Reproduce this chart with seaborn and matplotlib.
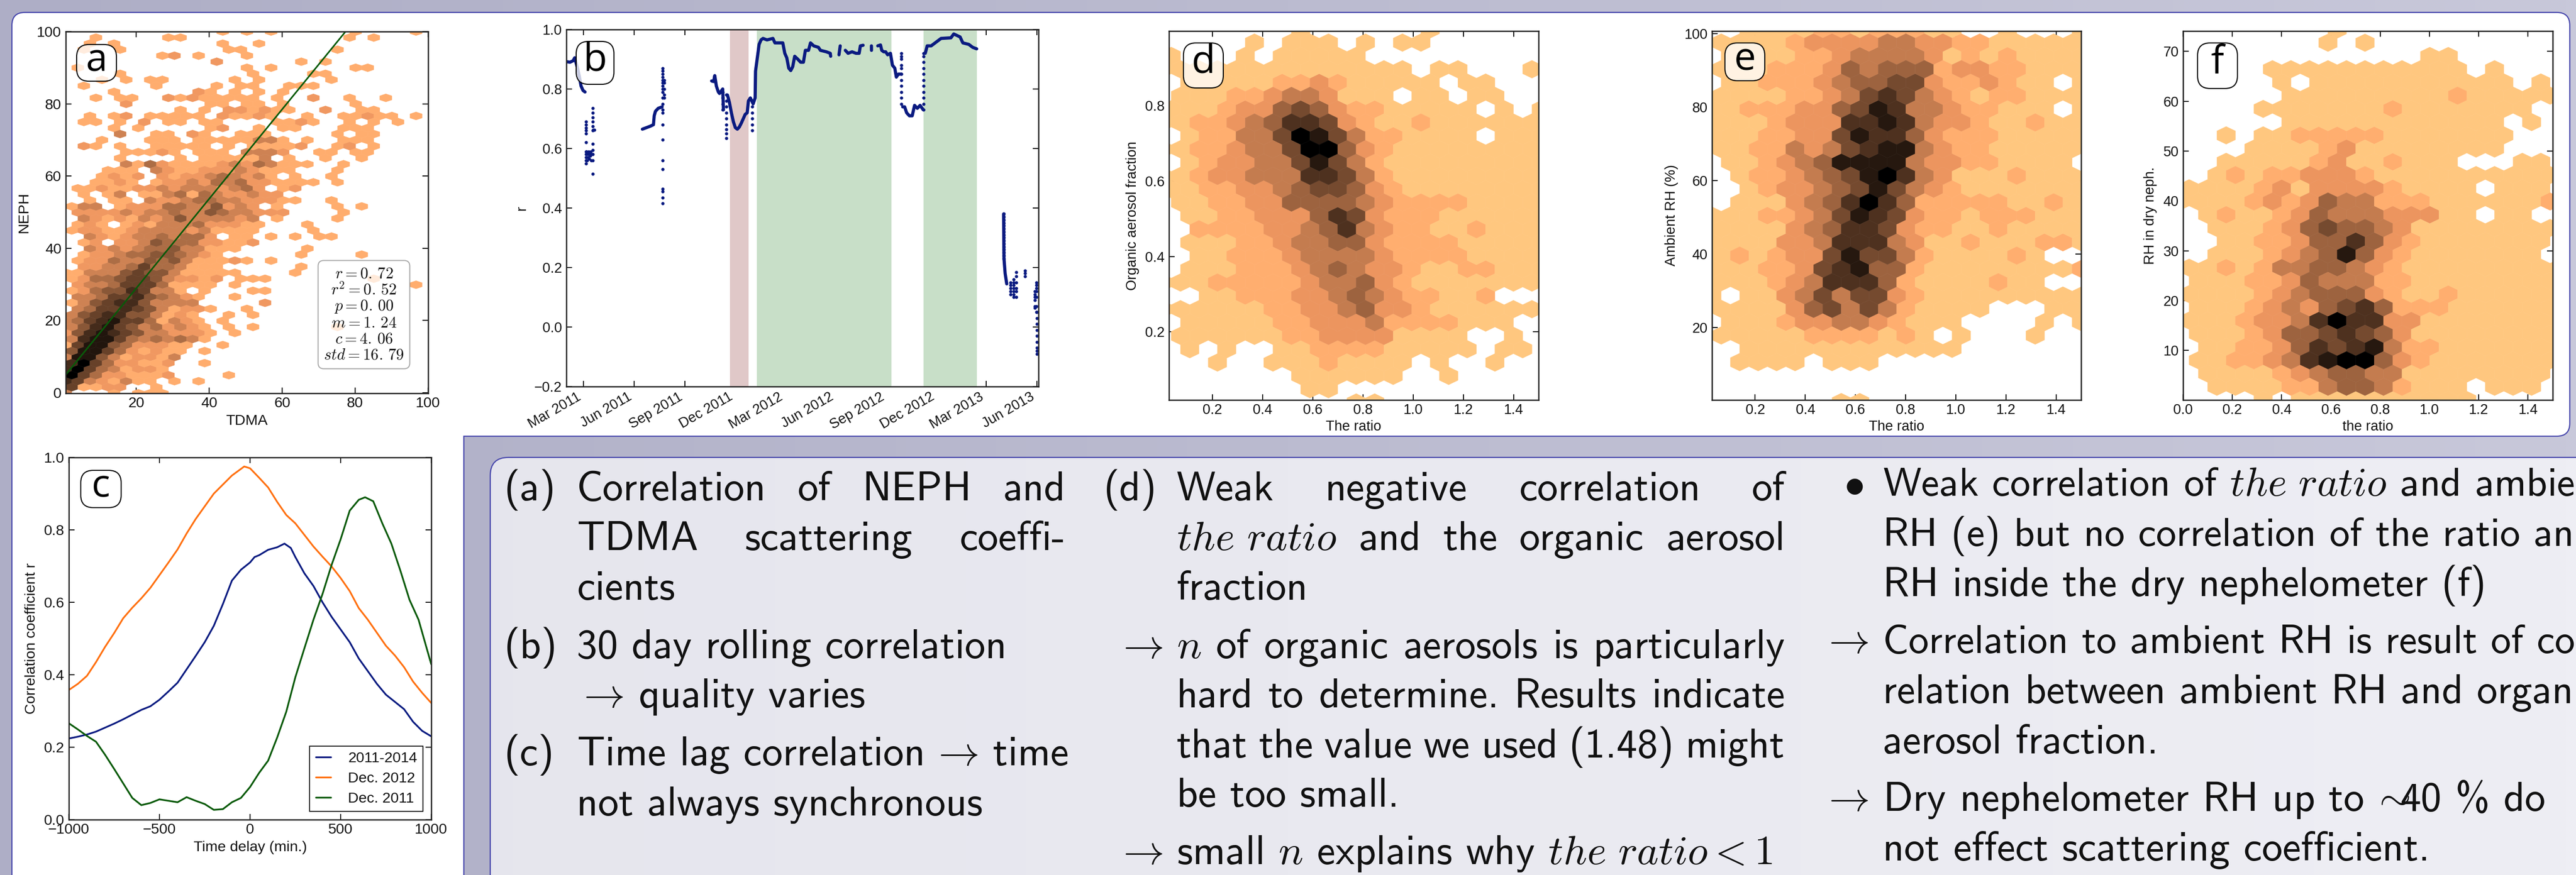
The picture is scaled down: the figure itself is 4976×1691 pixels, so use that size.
import numpy as np
import pandas as pd
import matplotlib
matplotlib.use('Agg')
import matplotlib.pyplot as plt
import matplotlib.dates as mdates
from matplotlib.patches import FancyBboxPatch, PathPatch
from matplotlib.path import Path
import seaborn as sns

W, H = 4976, 1691
sns.set_style('ticks')
plt.rcParams['font.family'] = ['Liberation Sans', 'DejaVu Sans']
plt.rcParams['mathtext.fontset'] = 'cm'
plt.rcParams.update({'xtick.direction': 'in', 'ytick.direction': 'in', 'xtick.top': True, 'ytick.right': True,
                     'xtick.major.size': 8, 'ytick.major.size': 8, 'xtick.major.width': 1.4, 'ytick.major.width': 1.4,
                     'xtick.major.pad': 5, 'ytick.major.pad': 6, 'axes.linewidth': 1.8, 'axes.edgecolor': '#222222',
                     'xtick.color': '#111111', 'ytick.color': '#111111', 'axes.labelcolor': '#111111', 'text.color': '#111111'})

NAVY = '#0a1a80'
ORANGE = '#ff7010'
GREEN = '#0a5a0a'

# ================= hexbin cells, read row by row from the top, '.' = empty, 1-9 = light to black =================
A_ROWS = [
    ".............1.1.1......1....1",
    "..1.....11.............1.1",
    "..1.1........1..1",
    ".1..1........11.......1",
    "........12.1...1",
    "............2......1.1",
    ".1.............1.1......11",
    "....1..........1....11",
    "...1.1.11.....1.1.....1",
    ".1.....1....1.11..111",
    "....1......21.1.1.1",
    "..1.11..21211111.1..2..1..1",
    ".....2......11.11.1.....1",
    ".........1.1.221211..2..11",
    "..1.12.11111.21121..1..11211.1",
    ".11.1.2.11.11....1121..1.1.1",
    "....1.1.....12..1.11...111",
    "....3..11.21..111.....1.11",
    "...1...111.11111331.1..111",
    ".21.1..11111.1.11112..12.1",
    ".....11121.111.3332..11.11",
    "....1....1.111113.1..1..1",
    ".....3142111123243111..1",
    "...111.321122232111...1",
    "...1212.2122343231.1..1",
    "..1121.12232434221111.1",
    ".1121122323332342.12",
    ".1.13.113414322322",
    "..1.11.3223443322211..1",
    "133.122244335232.1....1.1",
    ".222232334335433222....1",
    ".321213235333323.1....1",
    ".121.121333422211...1",
    "1221123333231111....1",
    "..32123343442.11.1.1.11",
    ".12.223544422112",
    "..3232344533111.....1",
    ".122344554321......1....1",
    ".122433545311121.1",
    ".223346443111......1",
    "113335655311111....1",
    "1244566532212.111........1",
    ".233466641111.1..............1",
    "1245576331.1...11",
    ".33466754321..1",
    "13567753333.....2",
    ".346676531221..1",
    "35677553121..1.1",
    "346786641321.1",
    "357865342321.1.1......1",
    "2578765332221.1",
    "378864343431",
    "16885422211..1",
    "5886421211.1",
    "3885312213",
    "796422112..1",
    "796431221",
    "964221112....1",
    "76321311.1.1",
    "61122..1",
    "3...1.111",
]
D_ROWS = [
    "........1......1......",
    ".....1.111.1.11......",
    ".1...1.11111..........",
    "11111111111111.11...1",
    "..11111223211111.11...",
    ".111223443111.11.11..",
    ".11123356532211111.1.1",
    "112234577632112111111",
    "..1224469864221111.111",
    "112234469953211111111",
    "..12334468642111111111",
    "112334447764211111111",
    ".112233456653211111111",
    ".11223355554322221111",
    "..11223335763222111111",
    "..2222334574322112111",
    "..11122344553222211111",
    "..1122234444322221111",
    "..11122234543321122111",
    "111222223445321111111",
    "...1122233454322112...",
    "111111223345332111111",
    "..111112233342222111..",
    ".1111112233331111..1.",
    "..1.1..11222211111.11.",
    "...1..11121111.1..1..",
    "........111111..1.....",
    "........11...........",
    "...........11.........",
]
E_ROWS = [
    "..111122122211..1...1",
    "11112333344332211111",
    ".11112234444312121111",
    "11122235455523322111",
    ".112223455663223211.1",
    "11112234676432122111",
    "1122233568744322111.1",
    "11123337787433211211",
    "111223368775322211111",
    "11224346788432211111",
    ".1123458888433221111.",
    ".1223456897431112111",
    "..1233456864321111111",
    ".1113457975222221121",
    "111223468763221222111",
    "11113457763221121111",
    "111133477743112111221",
    "121233686642111121..",
    "111223678552111111112",
    "111234777521111211..",
    "1.1134646632111111111",
    "111135646421111...11",
    ".1112334432111....1.1",
    "111112222121.1...1..",
    "..111111111111.......",
    ".1111.111...........",
    ".....................",
    "....................",
    ".......11............",
]
F_ROWS = [
    ".........1............",
    "........1.1..........",
    "..............11......",
    ".....11111111111.1...",
    "......1.11111111111.1.",
    "......111111111211111",
    ".....111111121111111..",
    "......111111111111.1.",
    "...1.11222221111111...",
    "....11112311111111....",
    "...1111123112111...11.",
    "..1212233321111111111",
    ".1111231333321111.111.",
    "111123235442221111112",
    "..121123544433311.11..",
    "..1112356554311111111",
    "...112235575321111111.",
    "..111234585321111111.",
    ".112124455432111111111",
    ".11122354442211111111",
    ".111123455532112111111",
    ".11123435675222111111",
    ".111233479773311111111",
    ".11123556765311111111",
    "..11223576784221111111",
    ".11223478995321111111",
    "..1111234554411111111.",
    "..11112245542111.111.",
    ".....1.1111111111.....",
]

# ================= panel a fit =================
a_fit_x = [0.7, 100.0]
a_m, a_c = 1.24, 4.06
a_stats = [r'$r=0.\,72$', r'$r^2=0.\,52$', r'$p=0.\,00$', r'$m=1.\,24$', r'$c=4.\,06$', r'$std=16.\,79$']

# ================= panel b: days after 2011-03-01 =================
seg_a_days = [-30.9, -24.4, -18.7, -15.8, -12.9, -10, -7.2, -4.3, -0.7, 2.9]
seg_a_r = [.892, .89, .895, .905, .885, .865, .84, .81, .795, .79]
seg_b_days = [107, 114.2, 121.4, 127.1, 128.5, 130.7, 135.7, 142.9]
seg_b_r = [.665, .67, .675, .68, .71, .725, .735, .74]
seg_c_days = [232.7, 236.3, 238.4, 241.3, 244.9, 247, 252.8, 254.2]
seg_c_r = [.827, .825, .845, .81, .79, .785, .80, .73]
seg_d_days = [261.4, 265, 268.6, 272.2, 275.8, 279.4, 282.9, 286.5, 290.1, 293.7, 297.3, 299.5, 303, 308.1, 311.7,
              312.4, 315.3, 318.9, 322.4, 326, 333.2, 344, 347.6, 361.9, 365.5, 369.1, 372.7, 376.3, 379.9, 383.5,
              389.2, 394.3, 399.3, 402.9, 408.6, 412.2, 418, 426.6, 430.2, 440.9, 448.1, 448.8]
seg_d_r = [.78, .755, .72, .69, .67, .665, .672, .685, .70, .715, .72, .76, .77, .75, .77,
           .86, .90, .95, .965, .97, .965, .97, .955, .955, .92, .905, .87, .862, .875, .91,
           .90, .89, .89, .93, .93, .955, .945, .94, .93, .925, .92, .91]
seg_e_days = [463.9, 466.1]
seg_e_r = [.915, .945]
seg_f_days = [475.4, 480.4, 487.6, 494.8, 500.5, 502.7, 507.7]
seg_f_r = [.93, .92, .925, .92, .92, .945, .947]
seg_g_days = [522.8, 522.9]
seg_g_r = [.945, .93]
seg_h_days = [534.3, 539.3, 541.5, 545.1, 548.7, 552.2, 557.3, 560.9, 565.2, 568, 571.6, 573.8, 577.4]
seg_h_r = [.945, .948, .93, .925, .925, .915, .92, .88, .87, .84, .85, .85, .85]
seg_i_days = [579.5, 583.1, 586.7, 591.7, 596.8, 601.1, 606.1, 611.1, 616.9]
seg_i_r = [.74, .74, .72, .71, .71, .745, .735, .745, .73]
seg_j_days = [620.5, 624, 631.2, 634.8, 642, 649.2, 667.1, 672.2, 677.9, 683.7, 688.7, 699.5, 706.6, 713.8]
seg_j_r = [.92, .945, .945, .95, .96, .97, .972, .985, .98, .975, .955, .95, .94, .935]
seg_k_days = [762.7, 763.4, 765.5, 768.4]
seg_k_r = [.38, .23, .18, .145]
b_segments = [(seg_a_days, seg_a_r), (seg_b_days, seg_b_r), (seg_c_days, seg_c_r), (seg_d_days, seg_d_r),
              (seg_e_days, seg_e_r), (seg_f_days, seg_f_r), (seg_g_days, seg_g_r), (seg_h_days, seg_h_r),
              (seg_i_days, seg_i_r), (seg_j_days, seg_j_r), (seg_k_days, seg_k_r)]

dot_days = [4.3, 5.5, 6.5, 7.5, 8.5, 9.5, 10.5, 11.5, 12.5, 13.5, 14.5, 15.5, 17, 18.3, 19.5, 143.6, 146.5, 259, 252.8,
            305.9, 577.4, 617.6, 762.7, 775.6, 781, 786, 801.4, 819.4, 822.3, 823]
dot_runs = [[.69, .68, .67, .66, .65, .62, .59, .58, .57, .56, .55], [.59], [.56], [.58], [.57], [.59], [.565], [.58],
            [.575], [.59], [.56], [.58], [.735, .72, .705, .69, .675, .66, .615, .595, .58, .56, .515], [.663], [.663],
            [.87, .86, .85, .84, .83, .82, .81, .80, .79, .77, .75, .73, .72, .68, .63, .56, .53, .465, .455, .435, .415],
            [.83, .82, .80, .78, .77], [.78, .76, .74, .72, .70, .68, .665, .65, .635], [.79, .77, .75, .73],
            [.76, .74, .72, .70, .68, .66], [.92, .91, .90, .88, .87, .85, .83, .81, .79, .77, .75],
            [.73, .75, .77, .79, .81, .83, .85, .87, .89, .91, .92],
            [.38, .37, .36, .35, .34, .33, .32, .31, .30, .29, .28, .27, .26, .25, .24, .23],
            [.15, .14, .13, .12, .11], [.16, .15, .14, .13, .12, .11, .10], [.185, .17, .15, .13, .12, .10],
            [.19, .18, .17], [.12, .11, .10, .09, .07, .065], [.15, .14, .13, .12, .10, .07, .05],
            [.05, .03, .01, -.01, -.03, -.05, -.07, -.08, -.09]]
pink_span = [265.7, 299.5]
green_spans = [[314.5, 559.4], [617.6, 714.5]]
b_ticks = ['2011-03-01', '2011-06-01', '2011-09-01', '2011-12-01', '2012-03-01', '2012-06-01', '2012-09-01',
           '2012-12-01', '2013-03-01', '2013-06-01']

# ================= panel c =================
c_blue_t = [-1000, -950, -900, -850, -800, -750, -700, -650, -600, -550, -500, -450, -400, -350, -300, -250, -200, -150,
            -100, -50, 0, 25, 50, 100, 150, 190, 225, 250, 300, 350, 400, 450, 500, 550, 600, 650, 700, 750, 800, 850,
            900, 950, 1000]
c_blue_r = [.224, .229, .235, .243, .254, .265, .277, .29, .303, .313, .331, .354, .378, .415, .452, .49, .535, .595,
            .66, .69, .71, .725, .73, .745, .752, .762, .75, .725, .68, .645, .60, .56, .525, .49, .445, .41, .375,
            .345, .325, .305, .27, .245, .23]
c_orange_t = [-1000, -950, -900, -850, -800, -750, -700, -650, -600, -550, -500, -450, -400, -350, -300, -250, -200,
              -150, -100, -32, 0, 50, 100, 150, 200, 250, 300, 350, 400, 450, 500, 550, 600, 650, 700, 750, 800, 850,
              900, 950, 1000]
c_orange_r = [.358, .375, .397, .435, .477, .515, .556, .585, .611, .64, .675, .71, .746, .79, .83, .865, .90, .925,
              .95, .975, .97, .944, .917, .877, .841, .818, .786, .754, .726, .699, .667, .631, .584, .552, .516, .48,
              .453, .421, .381, .35, .322]
c_green_t = [-1000, -950, -900, -850, -800, -750, -700, -650, -600, -550, -500, -450, -400, -350, -300, -250, -200,
             -150, -100, -50, 0, 50, 100, 150, 200, 250, 300, 350, 400, 450, 500, 550, 600, 635, 680, 730, 780, 830,
             880, 930, 1000]
c_green_r = [.266, .249, .231, .215, .179, .14, .10, .06, .04, .046, .056, .052, .048, .062, .052, .043, .027, .029,
             .048, .06, .09, .129, .163, .227, .298, .393, .473, .552, .623, .703, .774, .853, .883, .89, .879, .818,
             .762, .687, .607, .552, .429]


def px_axes(l, t, r, b):
    return fig.add_axes([l / W, 1 - b / H, (r - l) / W, (b - t) / H], zorder=2)


def hex_cells(rows, x0, x1, nx, y0, y1, ny):
    sx, sy = (x1 - x0) / nx, (y1 - y0) / ny
    xs, ys, vals = [], [], []
    for k, row in enumerate(rows):
        j = len(rows) - 1 - k
        off = 0.5 if j % 2 else 0.0
        for i, c in enumerate(row):
            if c != '.':
                xs.append(x0 + (i + off) * sx)
                ys.append(y0 + j / 2 * sy)
                vals.append(int(c))
    return xs, ys, vals


def hex_panel(ax, rows, ext, grid, lims, vmin=1):
    xs, ys, vals = hex_cells(rows, ext[0], ext[1], grid[0], ext[2], ext[3], grid[1])
    ax.hexbin(xs, ys, C=vals, gridsize=grid, extent=ext, cmap='copper_r', vmin=vmin, vmax=9, linewidths=0.4)
    ax.set_xlim(lims[0], lims[1])
    ax.set_ylim(lims[2], lims[3])


def round_path(pts, radii):
    verts, codes = [], []
    n = len(pts)
    for k, (p, r) in enumerate(zip(pts, radii)):
        p = np.array(p, float)
        a, b = np.array(pts[k - 1], float), np.array(pts[(k + 1) % n], float)
        first = Path.MOVETO if k == 0 else Path.LINETO
        if r == 0:
            verts.append(p)
            codes.append(first)
        else:
            verts += [p + (a - p) / np.linalg.norm(a - p) * r, p, p + (b - p) / np.linalg.norm(b - p) * r]
            codes += [first, Path.CURVE3, Path.CURVE3]
    verts.append(verts[0])
    codes.append(Path.CLOSEPOLY)
    return Path(verts, codes)


fig = plt.figure(figsize=(W / 100, H / 100), dpi=100)

# ================= background =================
bg = fig.add_axes([0, 0, 1, 1], zorder=0)
grad = np.linspace([174, 174, 198], [200, 200, 218], 256)[None, :, :] / 255
bg.imshow(grad, extent=(0, W, H, 0), aspect='auto')
edge = '#4646ac'
white_path = round_path([(23, 24), (4964, 24), (4964, 843), (896, 843), (896, H + 60), (23, H + 60)],
                        [25, 25, 25, 0, 0, 0])
bg.add_patch(PathPatch(white_path, fc='white', ec=edge, lw=1.6))
light_path = round_path([(947, 884), (W + 60, 884), (W + 60, H + 60), (947, H + 60)], [35, 0, 0, 0])
light_grad = np.linspace([228, 228, 236], [238, 238, 244], 256)[None, :, :] / 255
im = bg.imshow(light_grad, extent=(0, W, H, 0), aspect='auto')
light_patch = PathPatch(light_path, fc='none', ec=edge, lw=1.6)
bg.add_patch(light_patch)
im.set_clip_path(light_patch)
bg.set_xlim(0, W)
bg.set_ylim(H, 0)
bg.axis('off')

# ================= a =================
ax_a = px_axes(127, 61, 827, 760)
hex_panel(ax_a, A_ROWS, (0.7, 100, -0.2, 100), (30, 30), (0.7, 100, -0.2, 100), vmin=-0.195)
fit_x = np.array(a_fit_x)
sns.lineplot(x=fit_x, y=a_m * fit_x + a_c, color=GREEN, lw=2.2, ax=ax_a, legend=False)
ax_a.set_xlim(0.7, 100)
ax_a.set_ylim(-0.2, 100)
ax_a.set_xticks([20, 40, 60, 80, 100])
ax_a.set_yticks([0, 20, 40, 60, 80, 100])
ax_a.tick_params(labelsize=20.5)
ax_a.set_xlabel('TDMA', fontsize=20.5, labelpad=6)
ax_a.set_ylabel('NEPH', fontsize=20.5, labelpad=8)
ax_a.text((703 - 127) / 700, 1 - (608 - 61) / 699, '\n'.join(a_stats), transform=ax_a.transAxes, ha='center', va='center',
          fontsize=22, linespacing=1.05, bbox=dict(boxstyle='round,pad=0.35', fc='white', ec='#888888', lw=1.4, alpha=0.75))

# ================= b =================
ax_b = px_axes(1094, 57, 2006, 747)
start = pd.Timestamp('2011-03-01')
b_df = pd.concat([pd.DataFrame({'date': start + pd.to_timedelta(np.array(d, float), 'D'), 'r': r, 'seg': n})
                  for n, (d, r) in enumerate(b_segments)])
dots = pd.DataFrame({'date': start + pd.to_timedelta(np.repeat(dot_days, [len(v) for v in dot_runs]), 'D'),
                     'r': np.concatenate(dot_runs)})
ax_b.axvspan(start + pd.to_timedelta(pink_span[0], 'D'), start + pd.to_timedelta(pink_span[1], 'D'), color='#e0c8c8', lw=0)
for sp in green_spans:
    ax_b.axvspan(start + pd.to_timedelta(sp[0], 'D'), start + pd.to_timedelta(sp[1], 'D'), color='#c8dfc8', lw=0)
sns.lineplot(data=b_df, x='date', y='r', units='seg', estimator=None, sort=False, color=NAVY, lw=4.4, ax=ax_b, legend=False)
sns.scatterplot(data=dots, x='date', y='r', color=NAVY, s=20, linewidth=0, ax=ax_b, legend=False)
ax_b.set_xlim(pd.Timestamp('2011-01-29'), pd.Timestamp('2013-06-04'))
ax_b.set_ylim(-0.2, 1.0)
ax_b.set_xticks(pd.to_datetime(b_ticks))
ax_b.xaxis.set_major_formatter(mdates.DateFormatter('%b %Y'))
ax_b.tick_params(labelsize=19.5)
plt.setp(ax_b.get_xticklabels(), rotation=30, ha='right')
ax_b.set_xlabel('')
ax_b.set_ylabel('r', fontsize=19.5, labelpad=8)

# ================= c =================
ax_c = px_axes(133, 884, 833, 1584)
c_names = ['2011-2014', 'Dec. 2012', 'Dec. 2011']
c_df = pd.concat([pd.DataFrame({'t': c_blue_t, 'r': c_blue_r, 'period': c_names[0]}),
                  pd.DataFrame({'t': c_orange_t, 'r': c_orange_r, 'period': c_names[1]}),
                  pd.DataFrame({'t': c_green_t, 'r': c_green_r, 'period': c_names[2]})])
sns.lineplot(data=c_df, x='t', y='r', hue='period', palette=dict(zip(c_names, [NAVY, ORANGE, GREEN])), lw=2.4, ax=ax_c)
ax_c.set_xlim(-1000, 1000)
ax_c.set_ylim(0, 1)
ax_c.set_xticks([-1000, -500, 0, 500, 1000])
ax_c.set_yticks([0, .2, .4, .6, .8, 1.0])
ax_c.tick_params(labelsize=20.5)
ax_c.set_xlabel('Time delay (min.)', fontsize=20.5, labelpad=6)
ax_c.set_ylabel('Correlation coefficient r', fontsize=20.5, labelpad=8)
ax_c.legend(loc='lower right', fontsize=20.5, fancybox=False, edgecolor='black', framealpha=1, borderaxespad=0.55,
            handlelength=1.05, handletextpad=1.15, labelspacing=0.45).get_frame().set_linewidth(1.2)

# ================= d e f =================
ax_d = px_axes(2258, 60, 2972, 773)
hex_panel(ax_d, D_ROWS, (-.0382, 1.5091, .0123, 1.0027), (21, 14), (.0263, 1.4987, .019, .998))
ax_d.set_xticks([.2, .4, .6, .8, 1.0, 1.2, 1.4])
ax_d.set_yticks([.2, .4, .6, .8])
ax_d.set_xlabel('The ratio', fontsize=19.5, labelpad=4)
ax_d.set_ylabel('Organic aerosol fraction', fontsize=19.5, labelpad=8)

ax_e = px_axes(3307, 60, 4020, 773)
hex_panel(ax_e, E_ROWS, (.0276, 1.5012, -.34, 101.19), (20, 14), (.0276, 1.5, .23, 100.7))
ax_e.set_xticks([.2, .4, .6, .8, 1.0, 1.2, 1.4])
ax_e.set_yticks([20, 40, 60, 80, 100])
ax_e.set_xlabel('The ratio', fontsize=19.5, labelpad=4)
ax_e.set_ylabel('Ambient RH (%)', fontsize=19.5, labelpad=8)

ax_f = px_axes(4217, 60, 4931, 773)
hex_panel(ax_f, F_ROWS, (-.0505, 1.527, .04, 74.41), (21, 14), (0, 1.5, .04, 74.1))
ax_f.set_xticks([0, .2, .4, .6, .8, 1.0, 1.2, 1.4])
ax_f.set_yticks([10, 20, 30, 40, 50, 60, 70])
ax_f.set_xlabel('the ratio', fontsize=19.5, labelpad=4)
ax_f.set_ylabel('RH in dry neph.', fontsize=19.5, labelpad=8)
for ax in [ax_d, ax_e, ax_f]:
    ax.tick_params(labelsize=19.5)

# ================= overlay: panel letters and slide text =================
top = fig.add_axes([0, 0, 1, 1], zorder=5)
top.set_xlim(0, W)
top.set_ylim(H, 0)
top.axis('off')
letters = {'a': (148, 86, 225, 157), 'b': (1113, 80, 1186, 163), 'c': (156, 909, 234, 981),
           'd': (2286, 83, 2363, 170), 'e': (3332, 83, 3409, 156), 'f': (4245, 83, 4322, 171)}
for name, (l, t, r, b) in letters.items():
    top.add_patch(FancyBboxPatch((l + 18, t + 18), r - l - 36, b - t - 36, boxstyle='round,pad=18,rounding_size=24',
                                 fc=(1, 1, 1, 0.78), ec='black', lw=1.5))
    top.text((l + r) / 2, (t + b) / 2 - 4, name, fontsize=54, family='Open Sans', color='black', ha='center', va='center')

SANS = 'cmss10'
TS = 57.4


def say(x, y, s):
    t = top.text(x, y, s, fontsize=TS, family=SANS, color='#111111', va='baseline', ha='left')
    # the slide runs off the right edge: keep the last visible letters just inside it
    right = t.get_window_extent(fig.canvas.get_renderer()).x1
    if right > W - 3:
        t.set_fontsize(TS * (W - 3 - x) / (right - x))
    return t


def justified(x0, x1, y, words):
    items = [say(x0, y, w) for w in words]
    rend = fig.canvas.get_renderer()
    widths = [t.get_window_extent(rend).width for t in items]
    gap = (x1 - x0 - sum(widths)) / (len(words) - 1)
    x = x0
    for t, w in zip(items, widths):
        t.set_x(x)
        x += w + gap


ARROW = r'$\,\rightarrow\,$'
RATIO = r'$the\ ratio$'

say(974, 967, '(a)')
justified(1114, 2058, 967, ['Correlation', 'of', 'NEPH', 'and'])
justified(1114, 2058, 1063, ['TDMA', 'scattering', 'coeffi-'])
say(1114, 1159, 'cients')
say(974, 1272, '(b)')
say(1114, 1272, '30 day rolling correlation')
say(1114, 1367, r'$\rightarrow\,$quality varies')
say(974, 1479, '(c)')
say(1114, 1479, 'Time lag correlation' + ARROW + 'time')
say(1114, 1576, 'not always synchronous')

say(2132, 967, '(d)')
justified(2273, 3448, 967, ['Weak', 'negative', 'correlation', 'of'])
justified(2273, 3448, 1063, [RATIO, 'and', 'the', 'organic', 'aerosol'])
say(2273, 1159, 'fraction')
say(2156, 1272, r'$\rightarrow$')
justified(2273, 3448, 1272, [r'$n$', 'of', 'organic', 'aerosols', 'is', 'particularly'])
justified(2273, 3448, 1367, ['hard', 'to', 'determine.', 'Results', 'indicate'])
justified(2273, 3448, 1464, ['that', 'the', 'value', 'we', 'used', '(1.48)', 'might'])
say(2273, 1559, 'be too small.')
say(2156, 1670, r'$\rightarrow$')
say(2273, 1670, r'small $n$ explains why $the\ ratio<1$')

say(3562, 958, r'$\bullet$')
say(3637, 958, 'Weak correlation of ' + RATIO + ' and ambie')
say(3637, 1055, 'RH (e) but no correlation of the ratio an')
say(3637, 1152, 'RH inside the dry nephelometer (f)')
say(3519, 1262, r'$\rightarrow$')
say(3637, 1262, 'Correlation to ambient RH is result of co')
say(3637, 1359, 'relation between ambient RH and organ')
say(3637, 1456, 'aerosol fraction.')
say(3519, 1567, r'$\rightarrow$')
say(3637, 1567, r'Dry nephelometer RH up to $\!\sim\!\!\!$40 % do')
say(3637, 1663, 'not effect scattering coefficient.')

fig.savefig('out.png', dpi=100)
